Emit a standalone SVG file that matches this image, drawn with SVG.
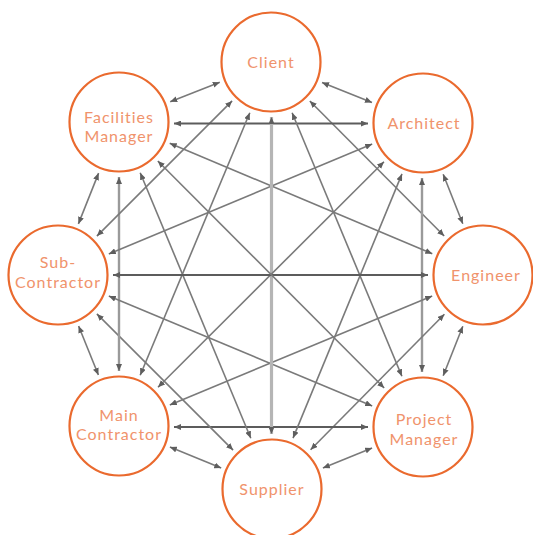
<svg xmlns="http://www.w3.org/2000/svg" width="533" height="535" viewBox="0 0 533 535">
<style>
.node circle{fill:#fff;stroke:#EA6A2E;stroke-width:2.2}
.node text{font-family:Lato,"Liberation Sans",sans-serif;font-size:16px;fill:#F0936C;text-anchor:middle;letter-spacing:1px}
.c line{stroke:#7a7a7a;stroke-width:1.6;marker-start:url(#ah);marker-end:url(#ah)}
.c line.h{stroke:#5c5c5c;stroke-width:2}
.c line.v{stroke:#9a9a9a;stroke-width:2.4}
.c line.vc{stroke:#b5b5b5;stroke-width:3.2}
</style>
<defs>
<marker id="ah" markerUnits="userSpaceOnUse" markerWidth="7" markerHeight="6" refX="7" refY="3" orient="auto-start-reverse">
<path d="M0,0 L7,3 L0,6 z" fill="#5e5e5e"/>
</marker>
</defs>
<rect width="533" height="535" fill="#fff"/>
<g id="connectors" class="c">
<line x1="322" y1="82.5" x2="372" y2="102.5"/>
<line x1="443.2" y1="174.2" x2="462.8" y2="223.8"/>
<line x1="462.8" y1="326.2" x2="443.2" y2="375.8"/>
<line x1="372.1" y1="447.9" x2="322.9" y2="468.1"/>
<line x1="221.2" y1="468.1" x2="169.9" y2="446.9"/>
<line x1="98.4" y1="375" x2="78.6" y2="326"/>
<line x1="78.4" y1="223.9" x2="98.6" y2="173.1"/>
<line x1="170.2" y1="101.8" x2="219.8" y2="82.2"/>
<line x1="309.8" y1="101" x2="444.2" y2="236"/>
<line class="v" x1="422" y1="178" x2="422" y2="372"/>
<line x1="444.4" y1="314.2" x2="310.6" y2="449.8"/>
<line class="h" x1="368" y1="427" x2="174" y2="427"/>
<line x1="233.1" y1="450.1" x2="96.9" y2="313.9"/>
<line class="v" x1="119" y1="371" x2="119" y2="177"/>
<line x1="96.9" y1="236.1" x2="232.1" y2="100.9"/>
<line class="h" x1="174" y1="123.5" x2="368" y2="123.5"/>
<line x1="292.1" y1="112.8" x2="401.9" y2="376.2"/>
<line x1="249.8" y1="112.8" x2="140.2" y2="375.2"/>
<line x1="402" y1="173.9" x2="293" y2="438.1"/>
<line x1="372.2" y1="144.1" x2="108.8" y2="253.9"/>
<line x1="432.2" y1="296.1" x2="169.8" y2="404.9"/>
<line x1="432.3" y1="253.7" x2="169.7" y2="143.3"/>
<line x1="372.2" y1="405.9" x2="108.8" y2="296.1"/>
<line x1="250.8" y1="438.2" x2="140.2" y2="172.8"/>
<line class="vc" x1="271.5" y1="117" x2="271.5" y2="434"/>
<line x1="384" y1="161.8" x2="158" y2="387.2"/>
<line class="h" x1="428" y1="275" x2="113" y2="275"/>
<line x1="384.2" y1="388" x2="157.8" y2="161"/>
</g>
<g id="client" class="node"><circle cx="271" cy="62" r="49.5"/><text x="271" y="68">Client</text></g>
<g id="architect" class="node"><circle cx="423" cy="123" r="49.5"/><text x="424" y="129">Architect</text></g>
<g id="engineer" class="node"><circle cx="483" cy="275" r="49.5"/><text x="486" y="281">Engineer</text></g>
<g id="project-manager" class="node"><circle cx="423" cy="427" r="49.5"/><text x="424" y="425">Project</text><text x="424" y="444.5">Manager</text></g>
<g id="supplier" class="node"><circle cx="272" cy="489" r="49.5"/><text x="272" y="495">Supplier</text></g>
<g id="main-contractor" class="node"><circle cx="119" cy="426" r="49.5"/><text x="119" y="420.5">Main</text><text x="119" y="440">Contractor</text></g>
<g id="sub-contractor" class="node"><circle cx="58" cy="275" r="49.5"/><text x="58" y="268">Sub-</text><text x="58" y="287.5">Contractor</text></g>
<g id="facilities-manager" class="node"><circle cx="119" cy="122" r="49.5"/><text x="119" y="122.5">Facilities</text><text x="119" y="142">Manager</text></g>
</svg>
